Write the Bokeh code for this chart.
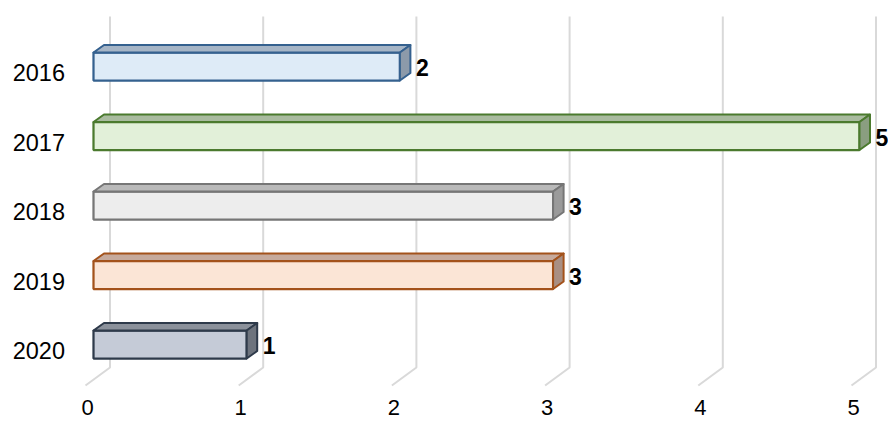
from bokeh.plotting import figure
from bokeh.models import Range1d
from bokeh.core.properties import value
from bokeh.embed import file_html
from bokeh.resources import INLINE

# ---- data ----
years = ["2016", "2017", "2018", "2019", "2020"]
counts = [2, 5, 3, 3, 1]
tick_values = [0, 1, 2, 3, 4, 5]
tick_labels = ["0", "1", "2", "3", "4", "5"]

front_fill = ["#DEEBF7", "#E2F0D9", "#EDEDED", "#FBE5D6", "#C5CBD7"]
top_fill = ["#A6B5C6", "#A9BB9F", "#B9B9B9", "#C6AA9C", "#8B919B"]
side_fill = ["#8C9AAA", "#8A9E80", "#9A9A9A", "#A98F83", "#6D737D"]
edge_col = ["#35618F", "#4B7A2E", "#767676", "#A3521B", "#2E3A4A"]

# ---- layout constants ----
W, H = 888, 422
PPU_X = 153.2          # pixels per value unit
ROW = 69.5             # pixels per row
X0 = 93.0              # px of value 0 (front face)
Y0 = 66.0              # px of first row centre
PX = 1.0 / PPU_X
PY = 1.0 / ROW

p = figure(width=W, height=H, output_backend="svg", toolbar_location=None,
           x_axis_location=None, y_axis_location=None, min_border=0,
           x_range=Range1d(-X0 / PPU_X, (W - X0) / PPU_X),
           y_range=Range1d((H - Y0) / ROW, -Y0 / ROW))
p.grid.visible = False
p.outline_line_color = None
p.background_fill_color = "white"

FONT = "Liberation Sans"

# gridlines (back wall + floor diagonal)
last = len(years) - 1
g_xs, g_ys = [], []
for v in tick_values:
    g_xs.append([v + 16.5 * PX, v + 16.5 * PX, v - 8 * PX])
    g_ys.append([-50 * PY, last + 23 * PY, last + 41 * PY])
p.multi_line(g_xs, g_ys, line_color="#D9D9D9", line_width=2)

# bars
HALF = 14 * PY
DX, DY = 10.5 * PX, 7.5 * PY
for i, (yr, c) in enumerate(zip(years, counts)):
    top = i - HALF
    bot = i + HALF
    p.quad(left=[0], right=[c], top=[top], bottom=[bot],
           fill_color=front_fill[i], line_color=edge_col[i], line_width=2.25)
    p.patch([0, c, c + DX, DX], [top, top, top - DY, top - DY],
            fill_color=top_fill[i], line_color=edge_col[i], line_width=2,
            line_join="round")
    p.patch([c, c + DX, c + DX, c], [top, top - DY, bot - DY, bot],
            fill_color=side_fill[i], line_color=edge_col[i], line_width=2,
            line_join="round")

rows = list(range(len(years)))

# data labels
p.text(x=[c + 16 * PX for c in counts], y=[r + 1 * PY for r in rows],
       text=[str(c) for c in counts],
       text_font=value(FONT), text_font_size="23px", text_font_style="bold",
       text_align="left", text_baseline="middle", text_color="#000000")

# category labels
p.text(x=[-28.5 * PX] * len(years), y=[r + 6 * PY for r in rows], text=years,
       text_font=value(FONT), text_font_size="23.5px",
       text_align="right", text_baseline="middle", text_color="#000000")

# value-axis tick labels
p.text(x=[v - 6 * PX for v in tick_values], y=[last + 63 * PY] * len(tick_values),
       text=tick_labels, text_font=value(FONT), text_font_size="22px",
       text_align="center", text_baseline="middle", text_color="#000000")

open("out.html", "w").write(file_html(p, INLINE))
